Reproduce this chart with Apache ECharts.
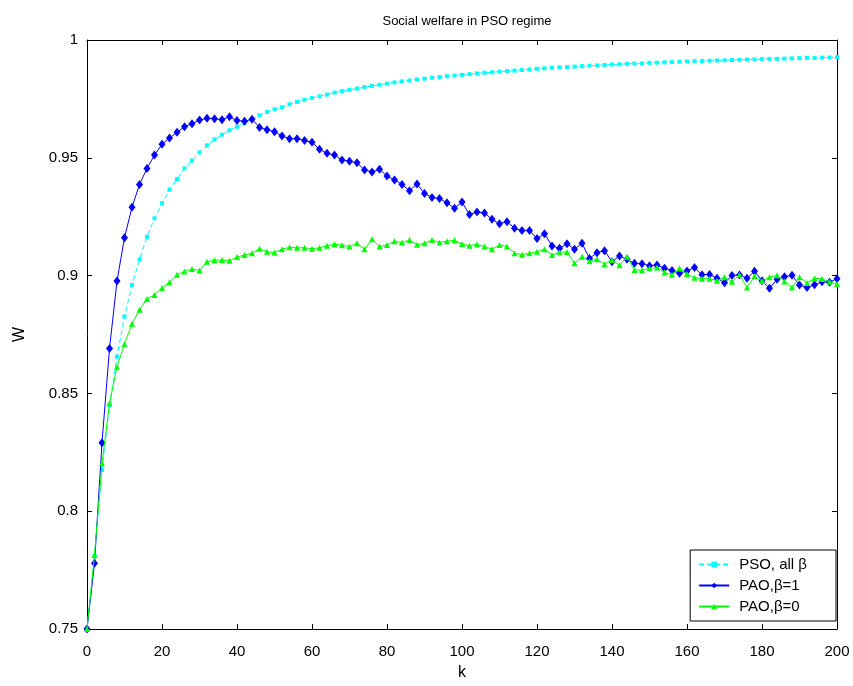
<!DOCTYPE html>
<html>
<head>
<meta charset="utf-8">
<script src="https://cdn.jsdelivr.net/npm/echarts@6/dist/echarts.min.js"></script>
<style>
html,body{margin:0;padding:0;background:#fff;}
#chart{width:853px;height:686px;}
</style>
</head>
<body>
<div id="chart"></div>
<script>
// ---- Data ----
const kValues = [0,2,4,6,8,10,12,14,16,18,20,22,24,26,28,30,32,34,36,38,40,42,44,46,48,50,52,54,56,58,60,62,64,66,68,70,72,74,76,78,80,82,84,86,88,90,92,94,96,98,100,102,104,106,108,110,112,114,116,118,120,122,124,126,128,130,132,134,136,138,140,142,144,146,148,150,152,154,156,158,160,162,164,166,168,170,172,174,176,178,180,182,184,186,188,190,192,194,196,198,200];

const psoAllBeta = [0.750,0.781,0.8175,0.845,0.8656,0.8826,0.896,0.9069,0.9165,0.9243,0.9307,0.9365,0.9410,0.9455,0.9488,0.9523,0.9553,0.9578,0.9598,0.9617,0.9632,0.9648,0.9663,0.9680,0.9695,0.9706,0.9714,0.9727,0.9737,0.9746,0.9754,0.9761,0.9768,0.9777,0.9783,0.9789,0.9794,0.9800,0.9805,0.9810,0.9815,0.9820,0.9824,0.9828,0.9833,0.9836,0.9840,0.9843,0.9846,0.9849,0.9852,0.9855,0.9858,0.9861,0.9863,0.9866,0.9868,0.9870,0.9873,0.9875,0.9878,0.9880,0.9882,0.9884,0.9885,0.9887,0.9889,0.9891,0.9892,0.9894,0.9896,0.9897,0.9899,0.9900,0.9901,0.9903,0.9904,0.9905,0.9906,0.9908,0.9909,0.9910,0.9911,0.9912,0.9913,0.9914,0.9915,0.9916,0.9917,0.9918,0.9919,0.9920,0.9920,0.9921,0.9922,0.9923,0.9924,0.9924,0.9925,0.9926,0.9927];

const paoBeta1 = [0.750,0.7779,0.8291,0.8691,0.8977,0.9161,0.929,0.9387,0.9455,0.9512,0.9557,0.9584,0.9608,0.9632,0.9645,0.9660,0.9668,0.9666,0.9662,0.9674,0.9658,0.9655,0.9664,0.9629,0.9619,0.9611,0.9593,0.9581,0.9581,0.9573,0.9566,0.9536,0.9519,0.9512,0.9491,0.9485,0.9479,0.9448,0.9440,0.9451,0.9423,0.9406,0.9387,0.9360,0.9389,0.9349,0.9332,0.9327,0.9309,0.9286,0.9312,0.9259,0.9270,0.9266,0.9239,0.9220,0.9229,0.9201,0.9191,0.9191,0.9157,0.9178,0.9126,0.9116,0.9135,0.9112,0.9137,0.9073,0.9097,0.9106,0.9059,0.9083,0.9069,0.9052,0.9050,0.9042,0.9045,0.9031,0.9022,0.9010,0.9020,0.9034,0.9004,0.9005,0.8989,0.8970,0.9000,0.9003,0.8989,0.9018,0.8978,0.8946,0.8984,0.8995,0.9001,0.8960,0.8949,0.8961,0.8974,0.8972,0.8987];

const paoBeta0 = [0.750,0.7814,0.8203,0.8458,0.8613,0.871,0.8796,0.8855,0.8901,0.8918,0.8947,0.8972,0.9004,0.9017,0.9028,0.9022,0.9059,0.9065,0.9066,0.9063,0.9079,0.9087,0.9095,0.9114,0.9101,0.9098,0.9112,0.9120,0.9118,0.9118,0.9114,0.9118,0.9127,0.9133,0.9129,0.9123,0.9137,0.9112,0.9154,0.9123,0.9130,0.9146,0.9140,0.9151,0.9131,0.9137,0.9151,0.9141,0.9146,0.9150,0.9134,0.9127,0.9133,0.9123,0.9112,0.9130,0.9123,0.9095,0.9089,0.9095,0.9101,0.9112,0.9087,0.9099,0.9100,0.9052,0.9080,0.9061,0.9069,0.9048,0.9066,0.9044,0.9080,0.9024,0.9023,0.9031,0.9034,0.9013,0.9004,0.9031,0.9007,0.8991,0.8987,0.8987,0.8978,0.8993,0.8974,0.9004,0.8949,0.8998,0.8977,0.8993,0.9001,0.8975,0.8949,0.8993,0.8969,0.8989,0.8986,0.8974,0.8964];

const seriesNames = ['PSO, all β', 'PAO,β=1', 'PAO,β=0'];
const yTickLabels = ['0.75','0.8','0.85','0.9','0.95','1'];

// ---- Chart ----
const FONT = 'Liberation Sans, Arial, Helvetica, sans-serif';
function pairs(ys){ return kValues.map((k,i)=>[k, ys[i]]); }

const chart = echarts.init(document.getElementById('chart'), null, {renderer:'canvas'});

const axisCommon = {
  axisLine: {show:true, onZero:false, lineStyle:{color:'#000', width:1}},
  axisTick: {show:true, inside:true, length:5, lineStyle:{color:'#000', width:1}},
  splitLine: {show:false}
};

chart.setOption({
  animation: false,
  backgroundColor: '#fff',
  textStyle: {fontFamily: FONT},
  title: {
    text: 'Social welfare in PSO regime',
    left: 462, top: 10, textAlign: 'center',
    textStyle: {fontSize: 13, fontWeight: 'normal', color: '#000', fontFamily: FONT}
  },
  grid: {left: 87, right: 16, top: 40, bottom: 57, containLabel: false},
  legend: {
    orient: 'vertical',
    right: 17, bottom: 65,
    data: seriesNames,
    itemWidth: 30, itemHeight: 7, itemGap: 6,
    padding: [7, 29, 7, 8],
    borderColor: '#000', borderWidth: 1,
    backgroundColor: '#fff',
    textStyle: {fontSize: 15, color: '#000', fontFamily: FONT, padding: [0, 0, 0, 5]}
  },
  xAxis: [
    Object.assign({
      type: 'value', min: 0, max: 200, interval: 20, position: 'bottom',
      name: 'k', nameLocation: 'middle', nameGap: 36,
      nameTextStyle: {fontSize: 16, color: '#000', fontFamily: FONT},
      axisLabel: {fontSize: 15, color: '#000', margin: 15, fontFamily: FONT}
    }, axisCommon),
    Object.assign({
      type: 'value', min: 0, max: 200, interval: 20, position: 'top',
      axisLabel: {show: false}
    }, axisCommon)
  ],
  yAxis: [
    Object.assign({
      type: 'value', min: 0.75, max: 1, interval: 0.05, position: 'left',
      name: 'W', nameLocation: 'middle', nameGap: 59,
      nameTextStyle: {fontSize: 16, color: '#000', fontFamily: FONT},
      axisLabel: {
        fontSize: 15, color: '#000', margin: 9, fontFamily: FONT,
        formatter: function(v){ const i = Math.round((v-0.75)/0.05); return yTickLabels[i] !== undefined ? yTickLabels[i] : ''; }
      }
    }, axisCommon),
    Object.assign({
      type: 'value', min: 0.75, max: 1, interval: 0.05, position: 'right',
      axisLabel: {show: false}
    }, axisCommon)
  ],
  series: [
    {
      name: seriesNames[0], type: 'line', xAxisIndex: 0, yAxisIndex: 0,
      data: pairs(psoAllBeta),
      symbol: 'rect', symbolSize: 4, showAllSymbol: true,
      itemStyle: {color: '#00FFFF'},
      lineStyle: {color: '#00FFFF', width: 1, type: [5, 3]},
      z: 2
    },
    {
      name: seriesNames[1], type: 'line', xAxisIndex: 0, yAxisIndex: 0,
      data: pairs(paoBeta1),
      symbol: 'diamond', symbolSize: [7, 9], showAllSymbol: true,
      itemStyle: {color: '#0000FF'},
      lineStyle: {color: '#0000FF', width: 1},
      z: 3
    },
    {
      name: seriesNames[2], type: 'line', xAxisIndex: 0, yAxisIndex: 0,
      data: pairs(paoBeta0),
      symbol: 'triangle', symbolSize: 6, showAllSymbol: true,
      itemStyle: {color: '#00FF00'},
      lineStyle: {color: '#00FF00', width: 1},
      z: 4
    }
  ]
});
</script>
</body>
</html>
